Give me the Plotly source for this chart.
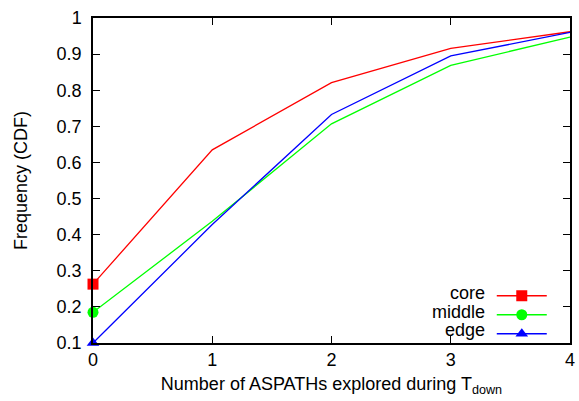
import plotly.graph_objects as go

x_vals = [0, 1, 2, 3, 4]
core = [0.263, 0.635, 0.821, 0.916, 0.962]
middle = [0.185, 0.437, 0.707, 0.869, 0.947]
edge = [0.100, 0.428, 0.733, 0.895, 0.960]

series_names = ["core", "middle", "edge"]
series_colors = ["#ff0000", "#00ff00", "#0000ff"]
series_symbols = ["square", "circle", "triangle-up"]
series_sizes = [11, 11, 11]
series_data = [core, middle, edge]

y_ticks = [0.1, 0.2, 0.3, 0.4, 0.5, 0.6, 0.7, 0.8, 0.9, 1.0]
y_ticktext = ["0.1", "0.2", "0.3", "0.4", "0.5", "0.6", "0.7", "0.8", "0.9", "1"]
x_ticks = [0, 1, 2, 3, 4]

FONT = "Liberation Sans, Arial, Helvetica, sans-serif"

fig = go.Figure()
for name, col, sym, sz, ys in zip(series_names, series_colors, series_symbols, series_sizes, series_data):
    fig.add_trace(go.Scatter(
        x=x_vals, y=ys, name=name, mode="lines+markers",
        line=dict(color=col, width=1.3),
        marker=dict(color=col, symbol=sym, size=sz, line=dict(width=0)),
        selectedpoints=[0],
        selected=dict(marker=dict(opacity=1)),
        unselected=dict(marker=dict(opacity=0)),
        cliponaxis=False,
    ))

axis_common = dict(
    showline=True, linecolor="black", linewidth=1.5, mirror="ticks",
    ticks="inside", ticklen=7, tickwidth=1, tickcolor="black",
    showgrid=False, zeroline=False, automargin=False,
    tickfont=dict(family=FONT, size=18, color="black"),
)

fig.update_layout(
    width=579, height=401,
    margin=dict(l=93, r=9, t=18, b=58, autoexpand=False),
    paper_bgcolor="white", plot_bgcolor="white",
    font=dict(family=FONT, size=18, color="black"),
    showlegend=True,
    legend=dict(
        x=0.836, y=0.19, xanchor="left", yanchor="top",
        bgcolor="rgba(0,0,0,0)", borderwidth=0,
        font=dict(family=FONT, size=2, color="rgba(0,0,0,0)"),
        itemwidth=50, tracegroupgap=0,
    ),
    xaxis=dict(range=[0, 4], tickvals=x_ticks, **axis_common,
               title=dict(text="Number of ASPATHs explored during T<sub>down</sub>",
                          font=dict(family=FONT, size=18), standoff=8)),
    yaxis=dict(range=[0.1, 1.0], tickvals=y_ticks, ticktext=y_ticktext,
               ticklabelstandoff=6, **axis_common,
               title=dict(text="Frequency (CDF)", font=dict(family=FONT, size=18), standoff=24)),
)

label_y = [0.154, 0.095, 0.040]
for name, yy in zip(series_names, label_y):
    fig.add_annotation(x=0.826, y=yy, xref="paper", yref="paper", text=name,
                       showarrow=False, xanchor="right", yanchor="middle",
                       font=dict(family=FONT, size=18, color="black"))

fig.write_html("out.html")
